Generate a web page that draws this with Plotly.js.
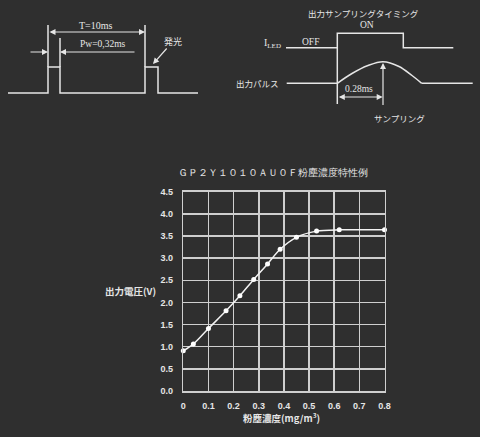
<!DOCTYPE html>
<html>
<head>
<meta charset="utf-8">
<script src="https://cdn.plot.ly/plotly-3.0.1.min.js"></script>
<style>
html,body{margin:0;padding:0;background:#2f2f2f;}
#chart{width:480px;height:437px;}
</style>
</head>
<body>
<div id="chart"></div>
<script>
// ---- main chart data ----
var dustDensity = [0, 0.04, 0.1, 0.17, 0.225, 0.28, 0.335, 0.385, 0.45, 0.53, 0.62, 0.8];
var outputVoltage = [0.91, 1.06, 1.41, 1.81, 2.15, 2.52, 2.87, 3.2, 3.47, 3.61, 3.64, 3.64];
var xTickVals = [0, 0.1, 0.2, 0.3, 0.4, 0.5, 0.6, 0.7, 0.8];
var xTickText = ["0", "0.1", "0.2", "0.3", "0.4", "0.5", "0.6", "0.7", "0.8"];
var yTickVals = [0, 0.5, 1, 1.5, 2, 2.5, 3, 3.5, 4, 4.5];
var yTickText = ["0.0", "0.5", "1.0", "1.5", "2.0", "2.5", "3.0", "3.5", "4.0", "4.5"];

// ---- schematic waveforms (diagram units) ----
var pulseX = [8, 48, 48, 60, 60, 145, 145, 158, 158, 198];
var pulseY = [93, 93, 67, 67, 93, 93, 67, 67, 93, 93];
var extAX = [48, 48], extAY = [25, 67];
var extBX = [145, 145], extBY = [25, 67];
var extCX = [60, 60], extCY = [38, 67];
var ledX = [286, 337.3, 337.3, 403.3, 403.3, 453.3];
var ledY = [47.7, 47.7, 33.3, 33.3, 47.7, 47.7];
var ledExtX = [337.3, 337.3], ledExtY = [47.7, 104];
var outBaseAX = [286.7, 337.3], outBaseAY = [83.3, 83.3];
var outCurveX = [337.3, 352, 368, 383, 399, 412, 421.7];
var outCurveY = [83.3, 73.5, 65.5, 61.7, 66.5, 75.5, 83.3];
var outBaseBX = [421.7, 472.7], outBaseBY = [83.3, 83.3];

var fg = '#e6e6e6';
var gridC = '#cfcfcf';
var serif = '"Liberation Serif", "DejaVu Serif", serif';
var cjk = '"Noto Sans CJK JP", "Noto Sans", sans-serif';
var sansB = '"Liberation Sans", Arial, sans-serif';

function wave(x, y, shape) {
  return {x: x, y: y, xaxis: 'x2', yaxis: 'y2', mode: 'lines', type: 'scatter',
    line: {color: fg, width: 1.5, shape: shape || 'linear', smoothing: 1}, hoverinfo: 'skip', showlegend: false};
}

var traces = [
  {x: dustDensity, y: outputVoltage, mode: 'lines+markers', type: 'scatter', cliponaxis: false,
   line: {color: '#f2f2f2', width: 1.5, shape: 'spline', smoothing: 0.8},
   marker: {color: '#ffffff', size: 5}, showlegend: false},
  wave(pulseX, pulseY), wave(extAX, extAY), wave(extBX, extBY), wave(extCX, extCY),
  wave(ledX, ledY), wave(ledExtX, ledExtY), wave(outBaseAX, outBaseAY),
  wave(outCurveX, outCurveY, 'spline'), wave(outBaseBX, outBaseBY)
];

var W = 480, H = 437;
function arrow(x, y, ax, ay, both) {
  return {xref: 'x2', yref: 'y2', axref: 'x2', ayref: 'y2', x: x, y: y, ax: ax, ay: ay,
    text: '', showarrow: true, arrowhead: 2, startarrowhead: 2, arrowsize: 1, startarrowsize: 1,
    arrowwidth: 1.2, arrowcolor: fg, arrowside: both ? 'end+start' : 'end'};
}
function label(x, y, text, size, family) {
  return {xref: 'x2', yref: 'y2', x: x, y: y, text: text, showarrow: false,
    font: {color: fg, size: size, family: family}, xanchor: 'center', yanchor: 'middle'};
}

var layout = {
  width: W, height: H,
  margin: {l: 0, r: 0, t: 0, b: 0},
  paper_bgcolor: '#2f2f2f', plot_bgcolor: 'rgba(0,0,0,0)',
  xaxis: {domain: [183.3 / W, 384.5 / W], range: [0, 0.8], tickvals: xTickVals, ticktext: xTickText,
    showgrid: true, gridcolor: gridC, gridwidth: 1.5, zeroline: false, showline: true, mirror: true,
    linecolor: gridC, linewidth: 1.5, ticks: '', ticklabelstandoff: 6,
    tickfont: {color: fg, size: 9, family: sansB, weight: 'bold'}},
  yaxis: {domain: [(H - 391) / H, (H - 191.7) / H], range: [0, 4.5], tickvals: yTickVals, ticktext: yTickText,
    showgrid: true, gridcolor: gridC, gridwidth: 1.5, zeroline: false, showline: true, mirror: true,
    linecolor: gridC, linewidth: 1.5, ticks: '', ticklabelstandoff: 7,
    tickfont: {color: fg, size: 9, family: sansB, weight: 'bold'}},
  xaxis2: {domain: [0, 1], range: [0, W], visible: false, anchor: 'y2', fixedrange: true},
  yaxis2: {domain: [1 - 131.1 / H, 1], range: [131.1, 0], visible: false, anchor: 'x2', fixedrange: true},
  annotations: [
    // chart title and axis titles
    {xref: 'paper', yref: 'paper', x: 273 / W, y: 1 - 172 / H, text: 'ＧＰ２Ｙ１０１０ＡＵ０Ｆ粉塵濃度特性例',
     showarrow: false, font: {color: fg, size: 10, family: serif}, xanchor: 'center', yanchor: 'middle'},
    {xref: 'paper', yref: 'paper', x: 130 / W, y: 1 - 291 / H, text: '<b>出力電圧(V)</b>',
     showarrow: false, font: {color: fg, size: 9.5, family: cjk}, xanchor: 'center', yanchor: 'middle'},
    {xref: 'paper', yref: 'paper', x: 281 / W, y: 1 - 417 / H, text: '<b>粉塵濃度(mg/m<sup>3</sup>)</b>',
     showarrow: false, font: {color: fg, size: 9.5, family: cjk}, xanchor: 'center', yanchor: 'middle'},
    // left timing diagram
    label(96, 25, 'T=10ms', 10, serif),
    label(103, 44, 'Pw=0,32ms', 9.5, serif),
    label(173, 41, '発光', 9, cjk),
    arrow(145, 32, 48, 32, true),
    arrow(48, 52, 29, 52, false),
    arrow(60, 52, 136, 52, false),
    arrow(153, 64, 168, 47, false),
    // right timing diagram
    label(363, 13, '出力サンプリングタイミング', 8.5, cjk),
    label(367, 24.5, 'ON', 9.5, serif),
    label(310, 41.5, 'OFF', 9.5, serif),
    label(272, 43, 'I<sub>LED</sub>', 10, serif),
    label(257, 82.5, '出力パルス', 8.5, cjk),
    label(359, 88.5, '0.28ms', 9.5, serif),
    label(399, 117.5, 'サンプリング', 8.5, cjk),
    arrow(382.7, 97, 337.3, 97, true),
    arrow(383, 63, 383, 106.5, false)
  ]
};

Plotly.newPlot('chart', traces, layout, {displayModeBar: false, staticPlot: true});
</script>
</body>
</html>
